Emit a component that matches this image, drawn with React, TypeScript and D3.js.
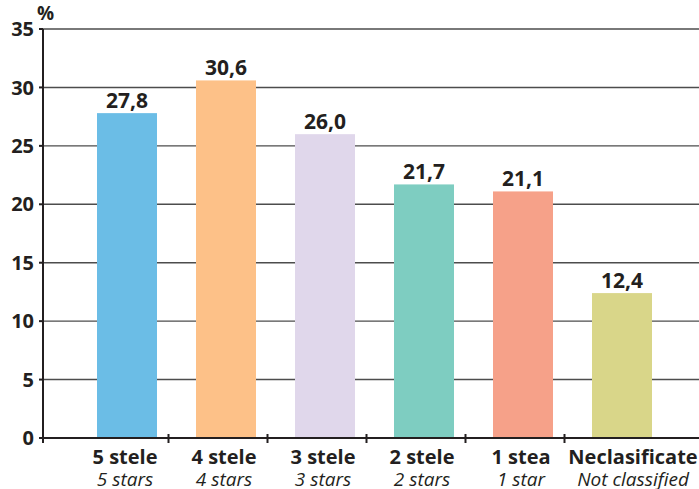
import * as d3 from 'd3'
import { useEffect, useRef } from 'react'

const categories = ['5 stele', '4 stele', '3 stele', '2 stele', '1 stea', 'Neclasificate']
const subLabels = ['5 stars', '4 stars', '3 stars', '2 stars', '1 star', 'Not classified']
const values = [27.8, 30.6, 26.0, 21.7, 21.1, 12.4]
const colors = ['#6bbde6', '#fdc188', '#e0d7eb', '#7ecdc1', '#f6a189', '#d9d689']
const yTicks = [0, 5, 10, 15, 20, 25, 30, 35]

const W = 699
const H = 489
const FONT = '"Open Sans", "DejaVu Sans", sans-serif'
const INK = '#231f20'

export default function App() {
  const svgRef = useRef<SVGSVGElement>(null)

  useEffect(() => {
    if (!svgRef.current) return
    const svg = d3.select(svgRef.current)
    svg.selectAll('*').remove()

    const axisX = 43
    const y = d3.scaleLinear().domain([0, 35]).range([438, 29])
    const x = d3.scaleBand<string>().domain(categories).range([77.5, 671.5]).padding(0)
    const barW = 60
    const cx = (i: number) => x(categories[i])! + x.bandwidth() / 2
    // the last label sits a little to the right of its bar, as in the source
    const labelX = (i: number) => cx(i) + (i === categories.length - 1 ? 11 : -2)

    // gridlines
    svg
      .append('g')
      .selectAll('line')
      .data(yTicks.filter((t) => t > 0))
      .join('line')
      .attr('x1', axisX)
      .attr('x2', W)
      .attr('y1', (d) => y(d))
      .attr('y2', (d) => y(d))
      .attr('stroke', '#4d4d4d')
      .attr('stroke-width', 1.4)

    // bars
    svg
      .append('g')
      .selectAll('rect')
      .data(values)
      .join('rect')
      .attr('x', (_, i) => cx(i) - barW / 2)
      .attr('width', barW)
      .attr('y', (d) => y(d))
      .attr('height', (d) => y(0) - y(d))
      .attr('fill', (_, i) => colors[i])

    // value labels
    svg
      .append('g')
      .selectAll('text')
      .data(values)
      .join('text')
      .attr('x', (_, i) => cx(i))
      .attr('y', (d) => y(d) - 5)
      .attr('text-anchor', 'middle')
      .attr('font-family', FONT)
      .attr('font-weight', 700)
      .attr('font-size', 21)
      .attr('fill', INK)
      .text((d) => d3.format('.1f')(d).replace('.', ','))

    // y axis
    svg
      .append('line')
      .attr('x1', axisX)
      .attr('x2', axisX)
      .attr('y1', y(35))
      .attr('y2', y(0) + 5)
      .attr('stroke', INK)
      .attr('stroke-width', 2)
    const yg = svg.append('g')
    yg.selectAll('line')
      .data(yTicks)
      .join('line')
      .attr('x1', axisX - 4)
      .attr('x2', axisX)
      .attr('y1', (d) => y(d))
      .attr('y2', (d) => y(d))
      .attr('stroke', INK)
      .attr('stroke-width', 2)
    yg.selectAll('text')
      .data(yTicks)
      .join('text')
      .attr('x', 34)
      .attr('y', (d) => y(d))
      .attr('dy', '0.36em')
      .attr('text-anchor', 'end')
      .attr('font-family', FONT)
      .attr('font-weight', 700)
      .attr('font-size', 20)
      .attr('fill', INK)
      .text((d) => d)

    svg
      .append('text')
      .attr('x', 37)
      .attr('y', 20)
      .attr('font-family', FONT)
      .attr('font-weight', 700)
      .attr('font-size', 19)
      .attr('fill', INK)
      .text('%')

    // x axis
    svg
      .append('line')
      .attr('x1', axisX - 4)
      .attr('x2', W)
      .attr('y1', y(0))
      .attr('y2', y(0))
      .attr('stroke', INK)
      .attr('stroke-width', 2)
    svg
      .append('g')
      .selectAll('line')
      .data(categories.slice(1))
      .join('line')
      .attr('x1', (d) => x(d)! - 8)
      .attr('x2', (d) => x(d)! - 8)
      .attr('y1', y(0) - 4)
      .attr('y2', y(0) + 5)
      .attr('stroke', INK)
      .attr('stroke-width', 2)

    const lg = svg.append('g')
    lg.selectAll('text.main')
      .data(categories)
      .join('text')
      .attr('class', 'main')
      .attr('x', (_, i) => labelX(i))
      .attr('y', 464)
      .attr('text-anchor', 'middle')
      .attr('font-family', FONT)
      .attr('font-weight', 700)
      .attr('font-size', 20)
      .attr('fill', INK)
      .text((d) => d)
    lg.selectAll('text.sub')
      .data(subLabels)
      .join('text')
      .attr('class', 'sub')
      .attr('x', (_, i) => labelX(i))
      .attr('y', 486)
      .attr('text-anchor', 'middle')
      .attr('font-family', FONT)
      .attr('font-style', 'italic')
      .attr('font-size', 19)
      .attr('fill', INK)
      .text((d) => d)
  }, [])

  return (
    <svg
      ref={svgRef}
      width={W}
      height={H}
      viewBox={`0 0 ${W} ${H}`}
      style={{ position: 'absolute', left: 0, top: 0, background: '#fff' }}
    />
  )
}
